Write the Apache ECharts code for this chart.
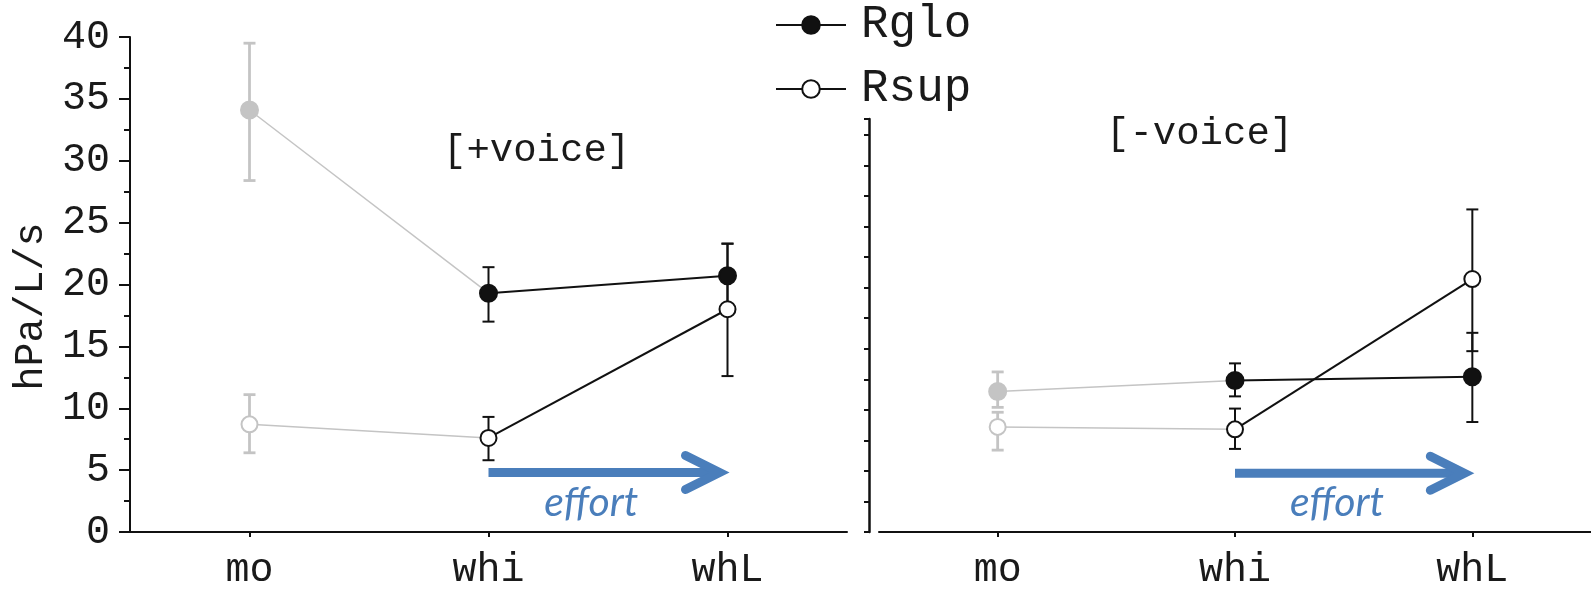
<!DOCTYPE html>
<html>
<head>
<meta charset="utf-8">
<script src="https://cdn.jsdelivr.net/npm/echarts@6/dist/echarts.min.js"></script>
<style>
html,body{margin:0;padding:0;background:#fff;}
#chart{width:1591px;height:590px;}
</style>
</head>
<body>
<div id="chart"></div>
<script>
const categories = ['mo', 'whi', 'whL'];
const seriesNames = ['Rglo', 'Rsup'];
const panelTitles = ['[+voice]', '[-voice]'];
const yAxisName = 'hPa/L/s';
const effortText = 'effort';

// [+voice] panel
const plusRglo = [34.1, 19.3, 20.7];
const plusRgloLow = [28.4, 17.0, 18.0];
const plusRgloHigh = [39.5, 21.4, 23.3];
const plusRsup = [8.7, 7.6, 18.0];
const plusRsupLow = [6.4, 5.8, 12.6];
const plusRsupHigh = [11.1, 9.3, 23.3];

// [-voice] panel
const minusRglo = [11.5, 12.4, 12.7];
const minusRgloLow = [10.2, 11.1, 9.0];
const minusRgloHigh = [13.1, 13.8, 16.3];
const minusRsup = [8.6, 8.4, 20.7];
const minusRsupLow = [6.7, 6.8, 14.8];
const minusRsupHigh = [9.8, 10.1, 26.4];

// effort arrow level (data units)
const arrowLevel = 4.8;
const effortLabelLevel = 2.4;

const BLACK = '#111111';
const GRAY = '#c4c4c4';
const BLUE = '#4a7ebb';
const MONO = '"Liberation Mono", "Courier New", monospace';

const chart = echarts.init(document.getElementById('chart'), null, {renderer: 'canvas'});

function lineSeriesPair(name, values, gridIdx, filled) {
  const symbol = filled ? 'circle' : 'emptyCircle';
  const size = filled ? 17 : 16;
  const grayData = values.map((v, i) => {
    if (i === 0) return v;
    if (i === 1) return {value: v, symbol: 'none'};
    return '-';
  });
  const blackData = values.map((v, i) => (i === 0 ? '-' : v));
  return [
    {
      name: name + '_mo', type: 'line', xAxisIndex: gridIdx, yAxisIndex: gridIdx,
      data: grayData, symbol: symbol, symbolSize: size, z: 3,
      lineStyle: {color: GRAY, width: 1.5},
      itemStyle: {color: GRAY, borderColor: GRAY, borderWidth: 2},
      emphasis: {disabled: true}, silent: true, animation: false
    },
    {
      name: name, type: 'line', xAxisIndex: gridIdx, yAxisIndex: gridIdx,
      data: blackData, symbol: symbol, symbolSize: size, z: 4,
      lineStyle: {color: BLACK, width: 2},
      itemStyle: {color: BLACK, borderColor: BLACK, borderWidth: 2},
      emphasis: {disabled: true}, silent: true, animation: false
    }
  ];
}

function errorSeries(lows, highs, gridIdx) {
  const data = lows.map((lo, i) => [i, lo, highs[i]]);
  return {
    type: 'custom', xAxisIndex: gridIdx, yAxisIndex: gridIdx, z: 2,
    silent: true, animation: false,
    encode: {x: 0, y: [1, 2]},
    data: data,
    renderItem: function (params, api) {
      const idx = api.value(0);
      const lo = api.coord([idx, api.value(1)]);
      const hi = api.coord([idx, api.value(2)]);
      const color = idx === 0 ? GRAY : BLACK;
      const w = idx === 0 ? 2.8 : 2;
      const cap = 6;
      const st = {stroke: color, lineWidth: w};
      return {
        type: 'group',
        children: [
          {type: 'line', shape: {x1: lo[0], y1: lo[1], x2: hi[0], y2: hi[1]}, style: st},
          {type: 'line', shape: {x1: hi[0] - cap, y1: hi[1], x2: hi[0] + cap, y2: hi[1]}, style: st},
          {type: 'line', shape: {x1: lo[0] - cap, y1: lo[1], x2: lo[0] + cap, y2: lo[1]}, style: st}
        ]
      };
    }
  };
}

const xAxisCommon = {
  type: 'category', data: categories, boundaryGap: true,
  axisLine: {lineStyle: {color: BLACK, width: 2}},
  axisTick: {show: true, alignWithLabel: true, length: 5, lineStyle: {color: BLACK, width: 2}},
  axisLabel: {fontFamily: MONO, fontSize: 40, color: '#1a1a1a', margin: 18},
  splitLine: {show: false}
};

const option = {
  backgroundColor: '#ffffff',
  animation: false,
  grid: [
    {left: 130, top: 37, width: 717, bottom: 57, containLabel: false},
    {left: 879, top: 119, width: 726, bottom: 50, containLabel: false}
  ],
  legend: {
    data: seriesNames,
    orient: 'vertical',
    left: 770, top: -3,
    itemWidth: 70, itemHeight: 22, itemGap: 18,
    textStyle: {fontFamily: MONO, fontSize: 46, color: '#1a1a1a', padding: [0, 0, 0, 10]},
    selectedMode: false
  },
  title: [
    {text: panelTitles[0], left: 438, top: 126, textStyle: {fontFamily: MONO, fontSize: 39, fontWeight: 'normal', color: '#1a1a1a'}},
    {text: panelTitles[1], left: 1101, top: 109, textStyle: {fontFamily: MONO, fontSize: 39, fontWeight: 'normal', color: '#1a1a1a'}}
  ],
  xAxis: [
    Object.assign({gridIndex: 0}, xAxisCommon),
    Object.assign({gridIndex: 1}, xAxisCommon)
  ],
  yAxis: [
    {
      gridIndex: 0, type: 'value', min: 0, max: 40, interval: 5,
      name: yAxisName, nameLocation: 'middle', nameGap: 79, nameRotate: 90,
      nameTextStyle: {fontFamily: MONO, fontSize: 40, color: '#1a1a1a', padding: [0, 44, 0, 0]},
      axisLine: {show: true, lineStyle: {color: BLACK, width: 2}},
      axisTick: {show: true, length: 11, lineStyle: {color: BLACK, width: 2}},
      minorTick: {show: true, splitNumber: 2, length: 6, lineStyle: {color: BLACK, width: 2}},
      axisLabel: {fontFamily: MONO, fontSize: 40, color: '#1a1a1a', margin: 20},
      splitLine: {show: false}
    },
    {
      gridIndex: 1, type: 'value', min: 0, max: 33.8, interval: 2.5, offset: 10,
      axisLine: {show: true, lineStyle: {color: BLACK, width: 2.5}},
      axisTick: {show: true, length: 5, lineStyle: {color: BLACK, width: 2}},
      axisLabel: {show: false},
      splitLine: {show: false}
    }
  ],
  series: [
    errorSeries(plusRgloLow, plusRgloHigh, 0),
    errorSeries(plusRsupLow, plusRsupHigh, 0),
    errorSeries(minusRgloLow, minusRgloHigh, 1),
    errorSeries(minusRsupLow, minusRsupHigh, 1),
    ...lineSeriesPair('Rglo', plusRglo, 0, true),
    ...lineSeriesPair('Rsup', plusRsup, 0, false),
    ...lineSeriesPair('Rglo', minusRglo, 1, true),
    ...lineSeriesPair('Rsup', minusRsup, 1, false)
  ]
};

chart.setOption(option);

// effort arrows, positioned through the axes
function effortGraphics(gridIdx) {
  const start = chart.convertToPixel({gridIndex: gridIdx}, [categories[1], arrowLevel]);
  const end = chart.convertToPixel({gridIndex: gridIdx}, [categories[2], arrowLevel]);
  const labelPos = chart.convertToPixel({gridIndex: gridIdx}, [categories[1], effortLabelLevel]);
  const tipX = end[0] - 8;
  const y = start[1];
  const headLen = 34, headHalf = 17;
  return [
    {type: 'line', z: 10, shape: {x1: start[0], y1: y, x2: tipX - 4, y2: y},
     style: {stroke: BLUE, lineWidth: 9}},
    {type: 'polyline', z: 10,
     shape: {points: [[tipX - headLen, y - headHalf], [tipX, y], [tipX - headLen, y + headHalf]]},
     style: {stroke: BLUE, lineWidth: 9, fill: null, lineCap: 'round', lineJoin: 'miter'}},
    {type: 'text', z: 10,
     x: start[0] + (end[0] - start[0]) * 0.43, y: labelPos[1],
     style: {text: effortText, fill: BLUE, font: 'italic 41px Lato, "Open Sans", sans-serif',
             textAlign: 'center', textVerticalAlign: 'middle'}}
  ];
}

chart.setOption({graphic: [...effortGraphics(0), ...effortGraphics(1)]});
</script>
</body>
</html>
